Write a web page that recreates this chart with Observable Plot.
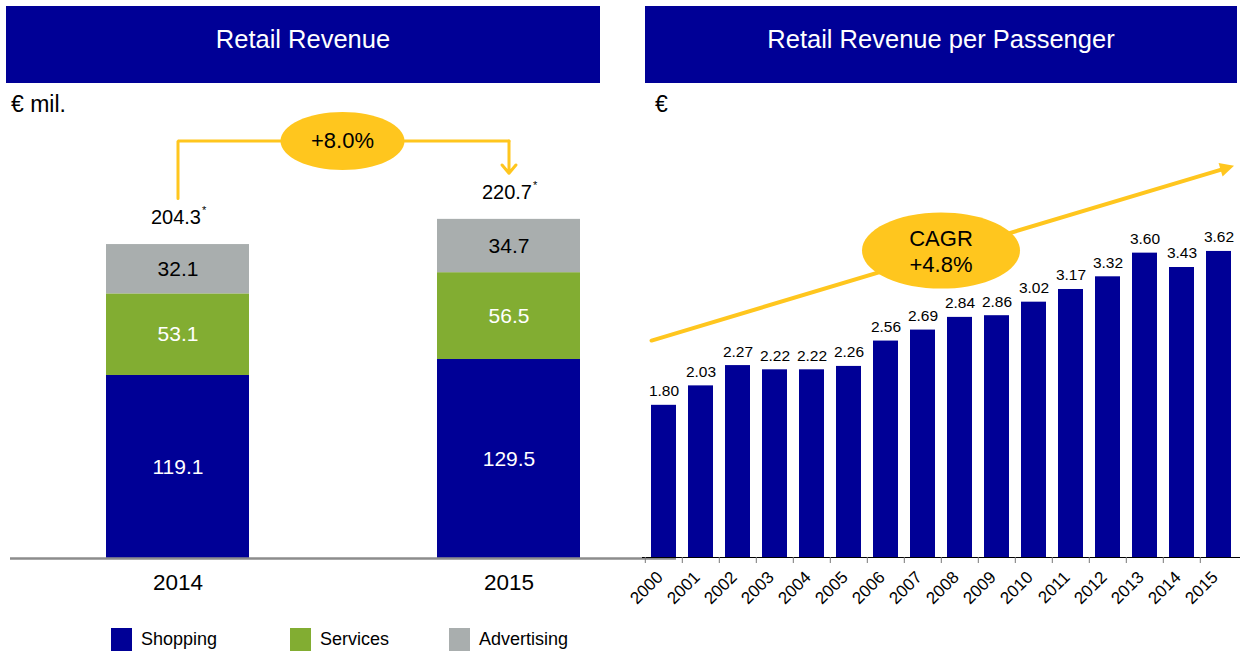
<!DOCTYPE html>
<html>
<head>
<meta charset="utf-8">
<script src="https://cdn.jsdelivr.net/npm/d3@7"></script>
<script src="https://cdn.jsdelivr.net/npm/@observablehq/plot@0.6"></script>
<style>
  body { margin: 0; background: #fff; font-family: "Liberation Sans", Arial, sans-serif; }
  #page { position: relative; width: 1240px; height: 655px; overflow: hidden; }
  .header { position: absolute; top: 6px; height: 77px; background: #000096; color: #fff;
            font-size: 25.5px; text-align: center; line-height: 66px; z-index: 3; }
  .unit { position: absolute; top: 91px; font-size: 23px; color: #000; z-index: 3; }
  .chart { position: absolute; }
  .chart svg { background: transparent; overflow: visible; }
  .legend { position: absolute; top: 627px; left: 0; font-size: 18px; color: #000; z-index: 3; }
  .legend .item { position: absolute; white-space: nowrap; }
  .legend .swatch { position: absolute; top: 1px; width: 21px; height: 23px; }
  .legend .label { position: absolute; left: 30px; top: 2px; }
</style>
</head>
<body>
<div id="page">
  <div class="header" style="left:6px;width:594px;">Retail Revenue</div>
  <div class="header" style="left:645px;width:592px;">Retail Revenue per Passenger</div>
  <div class="unit" style="left:11px;">€ mil.</div>
  <div class="unit" style="left:655px;">€</div>
  <div id="left" class="chart" style="left:0;top:90px;z-index:1;"></div>
  <div id="right" class="chart" style="left:620px;top:90px;z-index:2;"></div>
  <div id="legend" class="legend"></div>
</div>
<script>
// ---- Retail revenue by segment (€ mil.) ----
const revenueYears = ["2014", "2015"];
const segments = ["Shopping", "Services", "Advertising"];
const shopping = [119.1, 129.5];
const services = [53.1, 56.5];
const advertising = [32.1, 34.7];

// ---- Retail revenue per passenger (€) ----
const paxYears = ["2000", "2001", "2002", "2003", "2004", "2005", "2006", "2007",
                  "2008", "2009", "2010", "2011", "2012", "2013", "2014", "2015"];
const paxValues = [1.80, 2.03, 2.27, 2.22, 2.22, 2.26, 2.56, 2.69,
                   2.84, 2.86, 3.02, 3.17, 3.32, 3.60, 3.43, 3.62];

const BLUE = "#000096";
const GREEN = "#82AD32";
const GREY = "#A9AEAE";
const GOLD = "#FFC61E";
const segmentColors = [BLUE, GREEN, GREY];

// Ellipse symbol for the callout bubbles (fixed radii, independent of r)
const ellipse = (rx, ry) => ({
  draw(ctx) {
    const k = 0.5523;
    ctx.moveTo(rx, 0);
    ctx.bezierCurveTo(rx, ry * k, rx * k, ry, 0, ry);
    ctx.bezierCurveTo(-rx * k, ry, -rx, ry * k, -rx, 0);
    ctx.bezierCurveTo(-rx, -ry * k, -rx * k, -ry, 0, -ry);
    ctx.bezierCurveTo(rx * k, -ry, rx, -ry * k, rx, 0);
    ctx.closePath();
  }
});

// Solid arrowhead with its tip at the origin, pointing along +x
const arrowHead = (len, half) => ({
  draw(ctx) {
    ctx.moveTo(0, 0);
    ctx.lineTo(-len, -half);
    ctx.lineTo(-len, half);
    ctx.closePath();
  }
});

// Stacked rows with explicit lower/upper bounds per segment
const seriesBySegment = [shopping, services, advertising];
const rows = [];
const totals = revenueYears.map((year, i) => {
  let base = 0;
  segments.forEach((type, s) => {
    const value = seriesBySegment[s][i];
    rows.push({year, type, value, y1: base, y2: base + value});
    base += value;
  });
  return {year, total: base};
});

const growth = totals[1].total / totals[0].total - 1;
const growthLabel = (growth >= 0 ? "+" : "") + (growth * 100).toFixed(1) + "%";
const maxTotal = d3.max(totals, d => d.total);
const bracketTop = maxTotal + 51;
const bracketPath = [
  {x: totals[0].year, y: totals[0].total + 30},
  {x: totals[0].year, y: bracketTop},
  {x: totals[1].year, y: bracketTop}
];
const bracketArrow = [{x: totals[1].year, y1: bracketTop, y2: totals[1].total + 30}];

const leftChart = Plot.plot({
  width: 676,
  height: 520,
  marginLeft: 10,
  marginRight: 0,
  marginTop: 7,
  marginBottom: 52,
  style: {background: "transparent", fontFamily: "Liberation Sans, Arial, sans-serif", color: "#000"},
  x: {domain: revenueYears, paddingInner: 0.568, paddingOuter: 0.29, align: 0.5, label: null},
  y: {domain: [0, 300], axis: null},
  color: {domain: segments, range: segmentColors},
  marks: [
    Plot.barY(rows, {x: "year", y1: "y1", y2: "y2", fill: "type"}),
    Plot.ruleY([0], {stroke: "#8C8C8C", strokeWidth: 2.5}),
    Plot.axisX({tickSize: 0, tickPadding: 16, fontSize: 22.5, label: null}),
    Plot.text(rows.filter(d => d.type !== "Advertising"), {
      x: "year", y: d => (d.y1 + d.y2) / 2, text: d => d.value.toFixed(1),
      fill: "#fff", fontSize: 21
    }),
    Plot.text(rows.filter(d => d.type === "Advertising"), {
      x: "year", y: d => (d.y1 + d.y2) / 2, text: d => d.value.toFixed(1),
      fill: "#000", fontSize: 21
    }),
    Plot.text(totals, {x: "year", y: "total", text: d => d.total.toFixed(1),
      dy: -27, dx: 23, textAnchor: "end", fontSize: 20, fill: "#000"}),
    Plot.text(totals, {x: "year", y: "total", text: () => "*",
      dy: -34, dx: 24, textAnchor: "start", fontSize: 11, fill: "#000"}),
    Plot.line(bracketPath, {x: "x", y: "y", stroke: GOLD, strokeWidth: 3, strokeLinejoin: "miter"}),
    Plot.arrow(bracketArrow, {x: "x", y1: "y1", y2: "y2", stroke: GOLD, strokeWidth: 3,
      headLength: 13, headAngle: 80}),
    Plot.dot([bracketTop], {y: d => d, dx: -1, symbol: ellipse(62, 29), fill: GOLD, stroke: "none"}),
    Plot.text([growthLabel], {y: () => bracketTop, dx: -1, text: d => d, fontSize: 22, fill: "#000"})
  ]
});
document.getElementById("left").appendChild(leftChart);

// Compound annual growth over the whole period
const n = paxValues.length;
const cagr = Math.pow(paxValues[n - 1] / paxValues[0], 1 / (n - 1)) - 1;
const cagrLabel = "CAGR\n+" + (cagr * 100).toFixed(1) + "%";
const pax = paxYears.map((year, i) => ({year, value: paxValues[i]}));
const trend = [{x1: paxYears[0], y1: 2.61, x2: paxYears[n - 1], y2: 4.58}];
const bubble = [{x: "2007", y: 3.63}];

const rightChart = Plot.plot({
  width: 620,
  height: 565,
  marginLeft: 22,
  marginRight: 0,
  marginTop: 2,
  marginBottom: 98,
  style: {background: "transparent", fontFamily: "Liberation Sans, Arial, sans-serif", color: "#000"},
  x: {domain: paxYears, paddingInner: 0.323, paddingOuter: 0.1615, label: null},
  y: {domain: [0, 5.5], axis: null},
  marks: [
    Plot.barY(pax, {x: "year", y: "value", fill: BLUE}),
    Plot.ruleY([0], {stroke: "#000", strokeWidth: 1}),
    Plot.axisX({text: null, tickSize: 6, dx: -18.7, stroke: "#777", label: null}),
    Plot.axisX({tickSize: 0, tickPadding: 17, dx: -4, tickRotate: -45, fontSize: 17, label: null}),
    Plot.text(pax, {x: "year", y: "value", text: d => d.value.toFixed(2), dy: -14, fontSize: 15.5, fill: "#000"}),
    Plot.arrow(trend, {x1: "x1", y1: "y1", x2: "x2", y2: "y2", stroke: GOLD, strokeWidth: 4,
      headLength: 0, insetStart: -13, insetEnd: -5}),
    Plot.dot(trend, {x: "x2", y: "y2", dx: 15, dy: -4.45, rotate: -16.5,
      symbol: arrowHead(14, 7), fill: GOLD, stroke: "none"}),
    Plot.dot(bubble, {x: "x", y: "y", dx: 18, symbol: ellipse(79, 38), fill: GOLD, stroke: "none"}),
    Plot.text(bubble, {x: "x", y: "y", dx: 18, text: () => cagrLabel,
      lineHeight: 1.18, fontSize: 22, fill: "#000"})
  ]
});
document.getElementById("right").appendChild(rightChart);

// Legend for the segment colours
const legend = document.getElementById("legend");
const legendX = [111, 290, 449];
segments.forEach((name, i) => {
  const item = document.createElement("div");
  item.className = "item";
  item.style.left = legendX[i] + "px";
  item.innerHTML = `<div class="swatch" style="background:${segmentColors[i]}"></div><div class="label">${name}</div>`;
  legend.appendChild(item);
});
</script>
</body>
</html>
